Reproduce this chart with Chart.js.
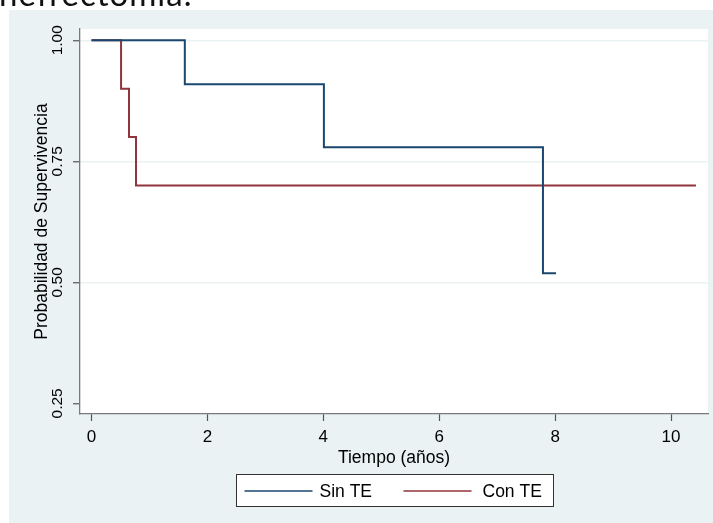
<!DOCTYPE html>
<html>
<head>
<meta charset="utf-8">
<script src="https://cdn.jsdelivr.net/npm/chart.js@4/dist/chart.umd.min.js"></script>
<style>
  html, body { margin: 0; padding: 0; background: #ffffff; }
  #wrap { position: relative; width: 713px; height: 523px; overflow: hidden; }
  #heading {
    position: absolute; left: -1px; top: -23px;
    font-family: "Lato", "Open Sans", sans-serif; font-size: 33px; line-height: 33px;
    color: #111; white-space: nowrap; letter-spacing: 1px;
  }
  #c { position: absolute; left: 0; top: 0; }
</style>
</head>
<body>
<div id="wrap">
  <canvas id="c" width="713" height="523"></canvas>
  <div id="heading">nefrectomía.</div>
</div>
<script>
// Kaplan-Meier estimates: time of each step (years) and survival after it
const sinTE_time = [0, 1.61, 4.01, 7.79, 8.015];
const sinTE_surv = [1.0, 0.909, 0.779, 0.519, 0.519];
const conTE_time = [0, 0.51, 0.647, 0.768, 10.43];
const conTE_surv = [1.0, 0.9, 0.8, 0.7, 0.7];

const seriesNames = ['Sin TE', 'Con TE'];
const seriesColors = ['#1a476f', '#90353b'];

const xTicks = [0, 2, 4, 6, 8, 10];
const yTicks = [0.25, 0.50, 0.75, 1.00];

const xTitle = 'Tiempo (años)';
const yTitle = 'Probabilidad de Supervivencia';

const toPoints = (t, s) => t.map((v, i) => ({ x: v, y: s[i] }));

const PANEL = '#eaf2f3';
const AXIS = '#7a7a7a';
const FAMILY = '"Liberation Sans", Arial, sans-serif';

// page panel + white plot region
const backdrop = {
  id: 'backdrop',
  beforeDraw(chart) {
    const { ctx, chartArea: a } = chart;
    ctx.save();
    ctx.fillStyle = PANEL;
    ctx.fillRect(9, 10, 704, 513);
    ctx.fillStyle = '#ffffff';
    ctx.fillRect(a.left, a.top, a.right - a.left, a.bottom - a.top);
    ctx.restore();
  }
};

// boxed legend centred under the plot region
const boxLegend = {
  id: 'boxLegend',
  afterDraw(chart) {
    const { ctx, chartArea: a } = chart;
    const w = 317, h = 32;
    const left = Math.round((a.left + a.right) / 2 - w / 2) + 0.5;
    const top = 474.5;
    ctx.save();
    ctx.fillStyle = '#ffffff';
    ctx.fillRect(left, top, w, h);
    ctx.strokeStyle = '#333333';
    ctx.lineWidth = 1;
    ctx.strokeRect(left, top, w, h);
    ctx.font = '17.5px ' + FAMILY;
    ctx.textBaseline = 'middle';
    ctx.fillStyle = '#000';
    const items = [
      { lx: 8, lw: 68, tx: 83 },
      { lx: 167, lw: 68, tx: 246 }
    ];
    chart.data.datasets.forEach((ds, i) => {
      const it = items[i];
      const y = Math.round(top + h / 2);
      ctx.strokeStyle = ds.borderColor;
      ctx.lineWidth = 1.6;
      ctx.beginPath();
      ctx.moveTo(left + it.lx, y);
      ctx.lineTo(left + it.lx + it.lw, y);
      ctx.stroke();
      ctx.fillText(ds.label, left + it.tx, y + 1);
    });
    ctx.restore();
  }
};

const titleFont = { family: FAMILY, size: 17.5 };

new Chart(document.getElementById('c'), {
  type: 'line',
  data: {
    datasets: [
      { label: seriesNames[0], data: toPoints(sinTE_time, sinTE_surv), borderColor: seriesColors[0] },
      { label: seriesNames[1], data: toPoints(conTE_time, conTE_surv), borderColor: seriesColors[1] }
    ].map(d => Object.assign(d, { stepped: true, borderWidth: 2, pointRadius: 0, fill: false }))
  },
  options: {
    responsive: false,
    devicePixelRatio: 1,
    animation: false,
    layout: { padding: { left: 0, right: 5, top: 29, bottom: 0 } },
    plugins: { legend: { display: false }, tooltip: { enabled: false } },
    scales: {
      x: {
        type: 'linear',
        min: -0.1985,
        max: 10.638,
        afterBuildTicks: s => { s.ticks = xTicks.map(v => ({ value: v })); },
        afterFit: s => { s.height = 109; },
        ticks: { color: '#000', font: { family: FAMILY, size: 17 }, padding: 6, maxRotation: 0, autoSkip: false },
        grid: { drawOnChartArea: false, tickLength: 7, tickColor: '#555', tickWidth: 1.2 },
        border: { color: AXIS, width: 1.3 },
        title: { display: true, text: xTitle, color: '#000', font: titleFont, padding: { top: 0, bottom: 54.5 } }
      },
      y: {
        type: 'linear',
        min: 0.228,
        max: 1.0233,
        afterBuildTicks: s => { s.ticks = yTicks.map(v => ({ value: v })); },
        afterFit: s => { s.width = 80; },
        ticks: {
          color: '#000', font: { family: FAMILY, size: 15.5 },
          minRotation: 90, maxRotation: 90, crossAlign: 'center', padding: 0, autoSkip: false,
          callback: v => v.toFixed(2)
        },
        grid: {
          color: c => (c.tick && c.tick.value === 0.25 ? 'rgba(0,0,0,0)' : PANEL),
          lineWidth: 1.5, tickLength: 7, tickColor: '#555', tickWidth: 1.2
        },
        border: { color: AXIS, width: 1.3 },
        title: { display: true, text: yTitle, color: '#000', font: titleFont, padding: { top: 32, bottom: 0 } }
      }
    }
  },
  plugins: [backdrop, boxLegend]
});
</script>
</body>
</html>
